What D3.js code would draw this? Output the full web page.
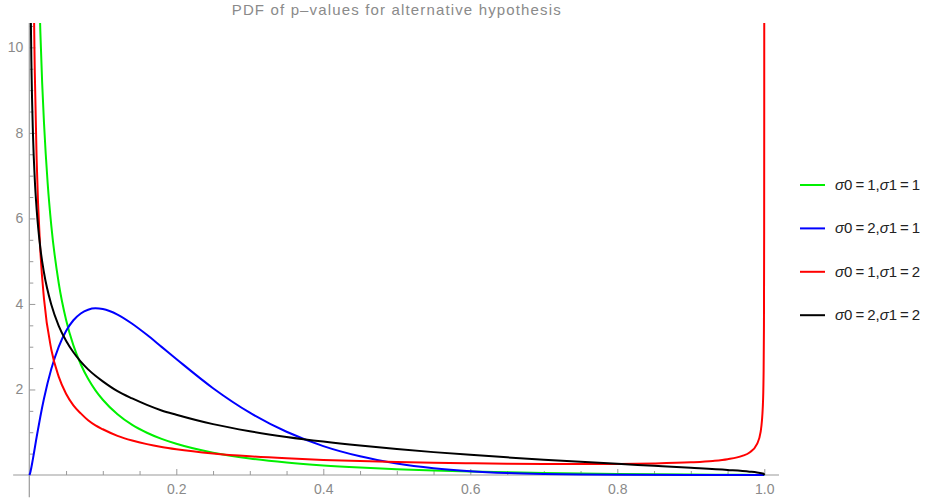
<!DOCTYPE html>
<html>

<head>
    <meta charset="utf-8" />
    <style>
        body {
            margin: 0;
            background-color: white;
        }
        text {
            font-family: "Liberation Sans", Arial, sans-serif;
        }
    </style>

    <script src="https://d3js.org/d3.v7.min.js"></script>
</head>

<body>
    <script>
        // values (p-value, density)
        var pGreen = [0.01, 0.0125, 0.015, 0.0175, 0.02, 0.025, 0.03, 0.04, 0.05, 0.06, 0.07, 0.08, 0.09, 0.10, 0.12, 0.14, 0.16, 0.18, 0.20, 0.25, 0.30, 0.35, 0.40, 0.45, 0.50, 0.55, 0.60, 0.65, 0.70, 0.75, 0.80, 0.85, 0.90, 0.95, 0.99, 1.0];
        var yGreen = [14.18, 11.97, 10.38, 9.17, 8.23, 6.82, 5.82, 4.49, 3.63, 3.03, 2.59, 2.25, 1.98, 1.76, 1.42, 1.17, 0.988, 0.844, 0.729, 0.521, 0.386, 0.292, 0.224, 0.174, 0.135, 0.105, 0.082, 0.063, 0.047, 0.035, 0.025, 0.017, 0.010, 0.005, 0.001, 0];

        var pBlue = [0, 0.001, 0.002, 0.005, 0.01, 0.015, 0.02, 0.03, 0.04, 0.05, 0.06, 0.07, 0.08, 0.09, 0.10, 0.12, 0.14, 0.16, 0.18, 0.20, 0.25, 0.30, 0.35, 0.40, 0.45, 0.50, 0.55, 0.60, 0.65, 0.70, 0.75, 0.80, 0.90, 1.0];
        var yBlue = [0, 0.038, 0.109, 0.384, 0.889, 1.363, 1.788, 2.485, 2.998, 3.367, 3.619, 3.778, 3.866, 3.897, 3.880, 3.752, 3.537, 3.278, 2.996, 2.713, 2.030, 1.458, 1.011, 0.676, 0.437, 0.271, 0.160, 0.089, 0.046, 0.022, 0.009, 0.003, 0, 0];

        var pRed = [0.002, 0.003, 0.004, 0.005, 0.006, 0.007, 0.0075, 0.01, 0.015, 0.02, 0.03, 0.04, 0.05, 0.06, 0.07, 0.08, 0.09, 0.10, 0.12, 0.14, 0.16, 0.18, 0.20, 0.25, 0.30, 0.35, 0.40, 0.45, 0.50, 0.55, 0.60, 0.65, 0.70, 0.75, 0.80, 0.85, 0.90, 0.93, 0.95, 0.97, 0.98, 0.99, 0.995, 0.998, 0.999, 0.9995, 0.9998, 0.9999, 0.99995];
        var yRed = [28.6, 20.3, 15.96, 13.25, 11.35, 9.97, 9.40, 7.38, 5.25, 4.12, 2.93, 2.30, 1.90, 1.63, 1.44, 1.28, 1.16, 1.07, 0.916, 0.806, 0.722, 0.656, 0.603, 0.504, 0.437, 0.389, 0.352, 0.325, 0.303, 0.286, 0.274, 0.264, 0.259, 0.257, 0.260, 0.270, 0.296, 0.328, 0.368, 0.446, 0.528, 0.721, 1.007, 1.606, 2.32, 3.40, 5.67, 8.44, 12.67];

        var pBlack = [0.001, 0.002, 0.003, 0.005, 0.0075, 0.01, 0.015, 0.02, 0.03, 0.04, 0.05, 0.06, 0.07, 0.08, 0.09, 0.10, 0.12, 0.14, 0.16, 0.18, 0.20, 0.25, 0.30, 0.35, 0.40, 0.45, 0.50, 0.55, 0.60, 0.65, 0.70, 0.75, 0.80, 0.85, 0.90, 0.95, 0.98, 0.99, 0.999, 1.0];
        var yBlack = [13.33, 10.78, 9.47, 7.97, 6.90, 6.21, 5.31, 4.73, 3.98, 3.49, 3.14, 2.87, 2.65, 2.47, 2.32, 2.19, 1.96, 1.79, 1.64, 1.51, 1.41, 1.19, 1.024, 0.891, 0.781, 0.688, 0.607, 0.535, 0.471, 0.413, 0.359, 0.309, 0.261, 0.215, 0.168, 0.117, 0.078, 0.059, 0.028, 0];

        var seriesNames = [["0=1,", "1=1"], ["0=2,", "1=1"], ["0=1,", "1=2"], ["0=2,", "1=2"]];
        var seriesColors = ["#00f000", "#0000ff", "#ff0000", "#000000"];

        var xTicks = [0.2, 0.4, 0.6, 0.8, 1.0];
        var yTicks = [2, 4, 6, 8, 10];

        var width = 926,
            height = 499;

        var series = [
            d3.zip(pGreen, yGreen),
            d3.zip(pBlue, yBlue),
            d3.zip(pRed, yRed),
            d3.zip(pBlack, yBlack)
        ];

        var x = d3.scaleLinear().domain([0, 1]).range([29.3, 764.3]);
        var y = d3.scaleLinear().domain([0, 10.57]).range([475, 23]);

        var svg = d3.select("body").append("svg")
            .attr("width", width)
            .attr("height", height);

        var axisColor = "#9a9a9a",
            labelColor = "#8a8a8a";

        svg.append("defs").append("clipPath")
            .attr("id", "plotClip")
            .append("rect")
            .attr("x", x(0) - 2)
            .attr("y", y(10.57))
            .attr("width", x(1.02) - x(0) + 2)
            .attr("height", y(-0.5) - y(10.57));

        // title
        svg.append("text")
            .attr("x", x(0.5))
            .attr("y", 14.5)
            .attr("text-anchor", "middle")
            .attr("font-size", 15)
            .attr("letter-spacing", 1.15)
            .attr("fill", labelColor)
            .text("PDF of p\u2013values for alternative hypothesis");

        // x axis
        var minorX = d3.range(1, 20).map(function (i) { return i * 0.05; })
            .filter(function (v) { return Math.abs(v * 5 - Math.round(v * 5)) > 1e-6; });
        var minorY = d3.range(1, 22).map(function (i) { return i * 0.5; })
            .filter(function (v) { return v % 2 !== 0; });

        var gx = svg.append("g").attr("transform", "translate(0," + y(0) + ")");
        gx.call(d3.axisBottom(x).tickValues(xTicks).tickSize(-6).tickPadding(9)
            .tickFormat(d3.format(".1f")));
        var gxMinor = svg.append("g").attr("transform", "translate(0," + y(0) + ")");
        gxMinor.call(d3.axisBottom(x).tickValues(minorX).tickSize(-4).tickFormat(""));

        var gy = svg.append("g").attr("transform", "translate(" + x(0) + ",0)");
        gy.call(d3.axisLeft(y).tickValues(yTicks).tickSize(-6).tickPadding(6));
        var gyMinor = svg.append("g").attr("transform", "translate(" + x(0) + ",0)");
        gyMinor.call(d3.axisLeft(y).tickValues(minorY).tickSize(-4).tickFormat(""));

        svg.selectAll(".domain").remove();
        svg.selectAll(".tick line").attr("stroke", axisColor);
        svg.selectAll(".tick text")
            .attr("fill", labelColor)
            .attr("font-size", 14)
            .attr("font-family", "Liberation Sans, Arial, sans-serif");

        svg.append("line")
            .attr("x1", x(-0.022)).attr("x2", x(1.02))
            .attr("y1", y(0)).attr("y2", y(0))
            .attr("stroke", axisColor).attr("stroke-width", 1.2);
        svg.append("line")
            .attr("x1", x(0)).attr("x2", x(0))
            .attr("y1", y(-0.52)).attr("y2", y(10.57))
            .attr("stroke", axisColor).attr("stroke-width", 1.2);

        // curves
        var line = d3.line()
            .x(function (d) { return x(d[0]); })
            .y(function (d) { return y(d[1]); })
            .curve(d3.curveMonotoneX);

        svg.append("g")
            .attr("clip-path", "url(#plotClip)")
            .selectAll("path")
            .data(series)
            .enter().append("path")
            .attr("d", line)
            .attr("fill", "none")
            .attr("stroke", function (d, i) { return seriesColors[i]; })
            .attr("stroke-width", 2);

        // legend
        var legend = svg.append("g").selectAll("g")
            .data(seriesNames)
            .enter().append("g")
            .attr("transform", function (d, i) { return "translate(800," + (185 + i * 43.4) + ")"; });

        legend.append("line")
            .attr("x1", 0).attr("x2", 25)
            .attr("stroke", function (d, i) { return seriesColors[i]; })
            .attr("stroke-width", 2);

        var lt = legend.append("text")
            .attr("x", 35)
            .attr("y", 5)
            .attr("font-size", 15)
            .attr("fill", "#222");
        lt.append("tspan").attr("font-style", "italic").text("\u03c3");
        lt.append("tspan").text(function (d) { return d[0].replace("=", "\u2009=\u2009"); });
        lt.append("tspan").attr("font-style", "italic").text("\u03c3");
        lt.append("tspan").text(function (d) { return d[1].replace("=", "\u2009=\u2009"); });
    </script>
</body>

</html>
